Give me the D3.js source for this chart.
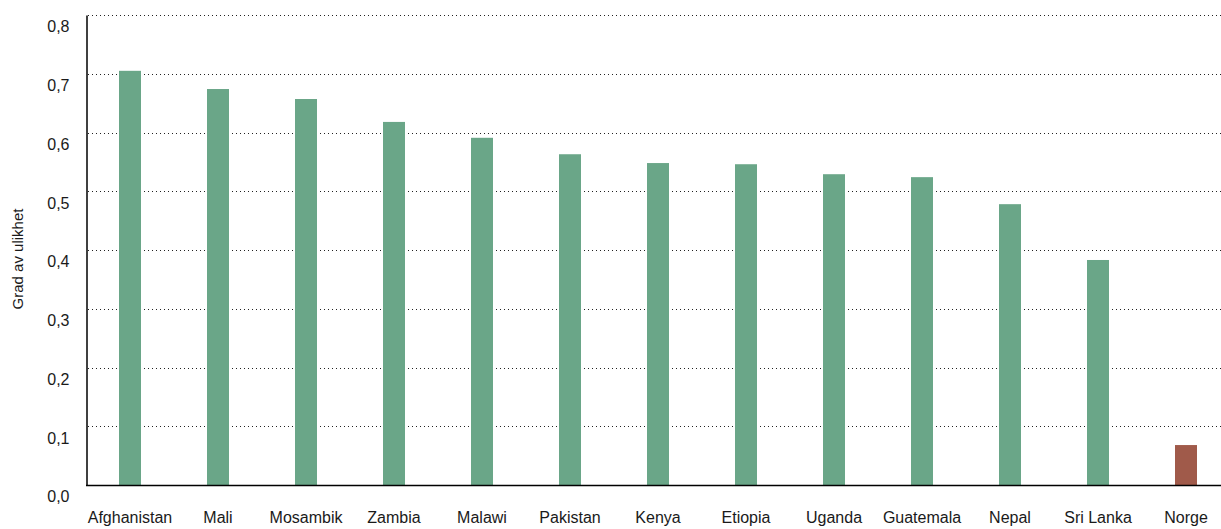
<!DOCTYPE html>
<html>
<head>
<meta charset="utf-8">
<script src="https://cdn.jsdelivr.net/npm/d3@7"></script>
<style>
  html, body { margin: 0; padding: 0; background: #fff; }
  svg { display: block; }
  text { font-family: "Liberation Sans", Arial, sans-serif; fill: #1a1a1a; }
</style>
</head>
<body>
<svg id="chart" width="1221" height="529"></svg>
<script>
const categories = ["Afghanistan", "Mali", "Mosambik", "Zambia", "Malawi", "Pakistan", "Kenya", "Etiopia", "Uganda", "Guatemala", "Nepal", "Sri Lanka", "Norge"];
const values = [0.705, 0.674, 0.657, 0.618, 0.591, 0.563, 0.548, 0.546, 0.529, 0.524, 0.478, 0.383, 0.068];
const yTicks = [0, 0.1, 0.2, 0.3, 0.4, 0.5, 0.6, 0.7, 0.8];
const yTitle = "Grad av ulikhet";
const highlight = "Norge";

const W = 1221, H = 529;
const mLeft = 86, mTop = 15, mBottom = 485;
const svg = d3.select("#chart");

const x = d3.scaleBand().domain(categories).range([mLeft, mLeft + 88 * categories.length]).paddingInner(0.75).paddingOuter(0.375);
const y = d3.scaleLinear().domain([0, 0.8]).range([mBottom, mTop]);
const fmt = d => d3.format(".1f")(d).replace(".", ",");

// gridlines
svg.append("g").selectAll("line").data(yTicks.filter(d => d > 0)).join("line")
  .attr("x1", mLeft + 2).attr("x2", W)
  .attr("y1", d => Math.round(y(d)) + 0.5).attr("y2", d => Math.round(y(d)) + 0.5)
  .attr("stroke", "#222").attr("stroke-width", 1).attr("stroke-dasharray", "1,3");

// bars
svg.append("g").selectAll("rect").data(categories).join("rect")
  .attr("x", d => x(d))
  .attr("width", x.bandwidth())
  .attr("y", (d, i) => y(values[i]))
  .attr("height", (d, i) => y(0) - y(values[i]))
  .attr("fill", d => d === highlight ? "#a05a4a" : "#6aa688");

// y axis
const yAxis = d3.axisLeft(y).tickValues(yTicks).tickFormat(fmt).tickSize(0).tickPadding(17);
const ya = svg.append("g").attr("transform", `translate(${mLeft + 0.5},0)`).call(yAxis);
ya.select(".domain").attr("stroke", "#000").attr("stroke-width", 1.5);
ya.selectAll("text").attr("font-size", 16).attr("font-family", "Liberation Sans, Arial, sans-serif").attr("fill", "#1a1a1a").attr("dy", "1.05em");

// x axis
const xAxis = d3.axisBottom(x).tickSize(0).tickPadding(26);
const xa = svg.append("g").attr("transform", `translate(0,${mBottom + 0.5})`).call(xAxis);
xa.select(".domain").attr("d", `M${mLeft},0H${W}`).attr("stroke", "#000").attr("stroke-width", 1.5);
xa.selectAll("text").attr("font-size", 16).attr("font-family", "Liberation Sans, Arial, sans-serif").attr("fill", "#1a1a1a");

// y title
svg.append("text")
  .attr("transform", `translate(23,${(mTop + mBottom) / 2 + 9}) rotate(-90)`)
  .attr("text-anchor", "middle")
  .attr("font-size", 15)
  .text(yTitle);
</script>
</body>
</html>
